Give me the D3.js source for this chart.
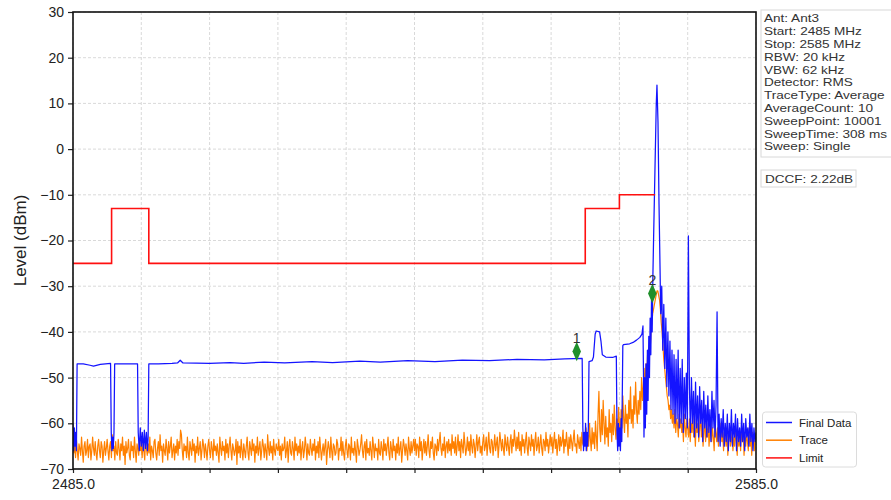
<!DOCTYPE html>
<html><head><meta charset="utf-8">
<script src="https://cdn.jsdelivr.net/npm/d3@7"></script>
<style>
body{margin:0;background:#fff}
svg{display:block}
text{font-family:"Liberation Sans",Arial,Helvetica,sans-serif}
</style>
</head><body>
<svg id="chart" width="891" height="500"></svg>
<script>
// ---------------- DATA ----------------
const yTicks = [30, 20, 10, 0, -10, -20, -30, -40, -50, -60, -70];
const xTicks = [2485, 2495, 2505, 2515, 2525, 2535, 2545, 2555, 2565, 2575, 2585];
const xTickLabels = ["2485.0", "", "", "", "", "", "", "", "", "", "2585.0"];
const yLabel = "Level (dBm)";

const infoLines = ["Ant: Ant3", "Start: 2485 MHz", "Stop: 2585 MHz", "RBW: 20 kHz", "VBW: 62 kHz",
  "Detector: RMS", "TraceType: Average", "AverageCount: 10", "SweepPoint: 10001",
  "SweepTime: 308 ms", "Sweep: Single"];
const dccfText = "DCCF: 2.22dB";

const seriesNames = ["Final Data", "Trace", "Limit"];

// Limit line
const limitFreq  = [2485, 2490.65, 2490.65, 2496.1, 2496.1, 2560, 2560, 2565, 2565, 2570.2];
const limitLevel = [-25, -25, -13, -13, -25, -25, -13, -13, -10, -10];

// Trace (orange), read every 0.125 MHz from 2485 MHz
const traceStart = 2485, traceStep = 0.125;
const traceLevel = [
 -64,-66.5,-65,-67.5,-63.5,-66,-68,-64.5,-65.5,-67,-63,-66,-68.5,-65,-64,-67,-66,-63.5,-67.5,-65,-64.5,-68,-66,-63,-65.5,-67,-64,-66.5,-68,-65,-63.5,-66,-67.5,-64,-65,-68.5,-66,-64,-67,-65.5,
 -63.5,-66,-68,-65,-64,-67.5,-62.5,-66,-65,-68,-64,-66.5,-67,-63.5,-65.5,-68,-64.5,-66,-63,-67,-65,-69,-64,-66.5,-65.5,-63.5,-67,-68,-64,-66,-65,-67.5,-63,-66,-68.5,-64.5,-65.5,-67,-63.5,-66,
 -65,-67.5,-64,-66,-68,-63.5,-65.5,-67,-64.5,-66.5,-63,-68,-65,-66,-67.5,-64,-63.5,-66.5,-68,-65.5,-64,-67,-62.5,-66,-65,-68.5,-64.5,-66,-67,-63.5,-65.5,-68,-64,-66.5,-65,-63,-67.5,-66,-64.5,-68,
 -65,-66.5,-63.5,-67,-64,-65.5,-61.5,-62.5,-66,-68,-64.5,-66,-65,-67.5,-63,-66.5,-68,-64,-65.5,-67,-63.5,-66,-64.5,-68.5,-65,-66.5,-63,-67,-65.5,-64,-68,-66,-63.5,-65,-67.5,-64.5,-66,-68,-65,-63.5,
 -66,-67.5,-64,-65.5,-68,-63.5,-66,-65,-67,-64.5,-66.5,-68.5,-63,-65.5,-67,-64,-66,-65,-68,-63.5,-66.5,-64.5,-67.5,-65,-63,-66,-68,-64.5,-65.5,-67,-66,-63.5,-69,-64,-66.5,-65,-67.5,-63.5,-66,-68,
 -64.5,-66,-67.5,-65,-63,-66.5,-68,-64,-65.5,-67,-63.5,-66,-64.5,-68.5,-65,-66.5,-63,-67,-65.5,-64,-68,-66,-63.5,-65,-67.5,-64.5,-66,-68,-62.5,-65.5,-67,-64,-66.5,-65,-68,-63.5,-66,-67,-64.5,-65.5,
 -66,-63.5,-67,-65,-68,-64.5,-66,-65.5,-63,-67.5,-66,-64,-68.5,-65,-63.5,-66.5,-67,-64,-65.5,-68,-63,-66,-64.5,-67,-65,-66.5,-63.5,-68,-65.5,-64,-67.5,-66,-63,-65,-68,-64.5,-66.5,-67,-63.5,-65.5,
 -67,-64.5,-66,-63.5,-68,-65,-66.5,-64,-67.5,-63,-65.5,-68,-66,-64.5,-67,-65,-63.5,-69,-66,-64,-65.5,-67.5,-63,-66,-68,-64.5,-65,-67,-66.5,-63.5,-64.5,-68,-65.5,-66,-63,-67,-64,-66.5,-68,-65,
 -63.5,-66,-67.5,-64.5,-65,-68,-63,-66.5,-65.5,-67,-64,-66,-68.5,-63.5,-65,-67,-66,-64.5,-62.5,-66,-67.5,-65,-64,-68,-63.5,-66.5,-65.5,-67,-64,-66,-68,-63,-65,-67.5,-64.5,-66,-65.5,-68,-63.5,-66.5,
 -67,-64,-65.5,-68,-63.5,-66,-64.5,-67,-65,-63,-66.5,-68,-64,-65.5,-67.5,-63.5,-66,-65,-68,-64.5,-66.5,-63,-67,-65.5,-64,-68.5,-66,-63.5,-65,-67,-64.5,-66,-68,-63,-65.5,-67,-64,-66.5,-65,-63.5,
 -66,-63.5,-67,-64.5,-65,-67.5,-63,-66,-64,-68,-65.5,-63.5,-66.5,-64,-67,-65,-62.5,-66,-67.5,-64,-65.5,-63,-66.5,-68,-64.5,-65,-67,-63.5,-66,-64,-62,-65.5,-67,-64.5,-66,-63,-67.5,-65,-64,-66.5,
 -63.5,-66,-64.5,-67,-62.5,-65.5,-64,-66.5,-63,-67,-65,-62.5,-66,-64,-67.5,-63.5,-65,-66.5,-62,-64.5,-67,-65.5,-63,-66,-64,-67,-62.5,-65,-66.5,-63.5,-64.5,-67.5,-65,-62.5,-66,-64,-63,-66.5,-65,-67,
 -64,-62.5,-66,-65,-63,-67,-64.5,-62,-65.5,-66.5,-63.5,-64,-67,-65,-62.5,-66,-64.5,-63,-67.5,-65,-62,-64,-66,-63.5,-65.5,-67,-62.5,-64.5,-66,-63,-65,-67,-64,-62.5,-66.5,-63.5,-65,-61.5,-64,-66,
 -63,-65.5,-62,-66,-64,-67,-62.5,-65,-63.5,-66.5,-64,-62,-65.5,-67,-63,-64.5,-66,-62.5,-65,-63.5,-67,-64,-62,-66,-65,-63,-66.5,-64.5,-62.5,-65.5,-67,-63.5,-64,-66,-62,-65,-63.5,-66.5,-64.5,-62.5,
 -65,-63,-66.5,-64,-62,-65.5,-63.5,-67,-64.5,-62.5,-66,-63,-65,-64,-61.5,-66.5,-63.5,-65,-62,-64.5,-67,-63,-65.5,-62.5,-64,-66,-63.5,-61.5,-65,-64.5,-66.5,-62.5,-64,-65.5,-63,-66,-62,-64.5,-65,-63.5,
 -64,-61,-66,-62.5,-65,-60,-63.5,-66,-61,-64.5,-62,-65.5,-59.5,-63,-66,-58,-53,-61,-64,-57,-62.5,-55,-60,-64.5,-58.5,-63,-61,-65,-57,-62,-60,-64,-58,-62.5,-56,-61,-63.5,-59,-62,-56.5,
 -60,-63,-57,-61,-54,-59,-62,-56,-60,-58,-63,-55,-59,-52,-60,-57,-61,-54,-58,-51,-57,-60,-55,-58,-53,-57,-50,-55,-52,-48,-53,-47,-50,-45,-48,-43,-44,-40,-38,-36,
 -35,-34,-33,-32,-31,-31,-32,-33,-35,-38,-40,-43,-46,-48,-50,-52,-54,-55,-57,-56,-59,-57,-60,-58,-61,-57,-62,-59,-60,-63,-58,-61,-59,-62,-60,-64,-58,-61,-63,-59,
 -61,-63,-59,-64,-60,-62,-58,-63,-61,-65,-59,-62,-60,-64,-61,-58,-63,-60,-65,-62,-59,-64,-61,-63,-60,-65,-62,-59,-64,-61,-63,-66,-60,-62,-64,-61,-65,-62,-63,-60,
 -64,-62,-66,-61,-63,-65,-62,-67,-63,-61,-65,-64,-62,-66,-63,-65,-61,-64,-67,-62,-65,-63,-66,-61,-64,-62,-67,-63,-65,-62,-64,-66,-61,-65,-63,-67,-62,-64,-66,-63,
 -64
];

// Final Data (blue), irregularly read points up to the peak
const finalFreq = [
 2485.0,2485.1,2485.2,2485.3,2485.4,2485.5,2485.6,
 2486.5,2487.5,2488.0,2489.0,2490.5,
 2490.6,2490.7,2490.8,2490.9,2491.0,2491.1,
 2492.5,2494.45,
 2494.55,2494.7,2494.85,2495.0,2495.15,2495.3,2495.45,2495.6,2495.75,2495.9,2496.0,2496.1,
 2497.5,2499.5,2500.3,2500.7,2501.1,
 2505,2508,2510,2513,2516,2520,2523,2527,2530,2534,2538,2542,2546,2550,2554,2557,2559.55,
 2559.65,2559.75,2559.85,2559.95,2560.05,2560.15,2560.25,2560.35,2560.45,2560.55,
 2561.0,2561.2,2561.45,2561.6,2562.1,2562.3,2562.5,2563,2564,2564.55,
 2564.65,2564.75,2564.85,2564.95,2565.05,2565.15,2565.25,2565.35,2565.5,
 2565.6,2566.5,2567.0,2567.5,2568.0,2568.3,2568.45,
 2568.55,2568.6,2568.7,2568.8,2568.9,2569.0,2569.1,2569.2,2569.3,2569.4,2569.5,2569.6,2569.7,2569.8,2569.9,
 2570.0,2570.2,2570.4,2570.5,2570.65,2570.8,2570.95,2571.05
];
const finalLevel = [
 -60,-66,-61,-65,-62,-66,-47,
 -47,-47.3,-47.5,-47.1,-46.9,
 -62,-66,-63,-65.5,-62,-47,
 -47,-47,
 -62,-66,-61,-65,-62,-66,-61.5,-65.5,-62,-66,-63,-47,
 -47,-46.9,-46.8,-46.2,-46.8,
 -46.9,-46.7,-46.9,-46.6,-46.8,-46.5,-46.7,-46.4,-46.6,-46.3,-46.5,-46.2,-46.3,-46.0,-46.1,-45.9,-45.8,
 -61,-66,-62,-65,-60,-66,-62,-65,-61,-46.5,
 -46.3,-45.5,-40.5,-39.8,-40,-42,-45,-45.5,-45.6,-45.3,
 -62,-66,-60,-65,-61,-66,-59,-64,-43,
 -42.8,-42.6,-42.3,-41.8,-41.2,-40.5,-38.7,
 -52,-63,-50,-61,-47,-58,-44,-55,-41,-50,-37,-45,-33,-40,-28,
 -20,-5,10,14,6,-12,-26,-36
];
// Final Data (blue) after the peak, read every 0.15 MHz from 2571.2 MHz
const finalTailStart = 2571.2, finalTailStep = 0.15;
const finalTailLevel = [
 -30,-44,-34,-48,-37,-52,-40,-54,-42,-57,-44,-58,-45,-60,-46,-59,-44,-61,-48,-60,
 -46,-62,-50,-59,-49,-61,-19,-52,-62,-50,-60,-53,-63,-51,-61,-54,-63,-52,-60,-55,
 -64,-53,-61,-56,-63,-54,-62,-57,-64,-53,-61,-55,-63,-56,-35.6,-64,-58,-65,-59,-63,
 -57,-65,-60,-64,-58,-66,-60,-64,-57,-65,-60,-63,-58,-66,-59,-64,-61,-65,-58,-64,
 -60,-66,-59,-63,-61,-65,-58,-64,-60,-66,-61,-64,-62
];

// Markers
const markerFreq  = [2558.75, 2569.82];
const markerLevel = [-44.3, -31.6];
const markerLabel = ["1", "2"];

// ---------------- DRAW ----------------
const svg = d3.select("#chart");
const L = 73, R = 756, T = 12, B = 469;
const x = d3.scaleLinear().domain([2485, 2585]).range([L, R]);
const y = d3.scaleLinear().domain([-70, 30]).range([B, T]);

svg.append("rect").attr("width", 891).attr("height", 500).attr("fill", "#fff");

// grid
const grid = svg.append("g").attr("stroke", "#cfcfcf").attr("stroke-width", 0.8).attr("stroke-dasharray", "3,2");
grid.selectAll("line.h").data(yTicks).join("line").attr("class", "h")
  .attr("x1", L).attr("x2", R).attr("y1", d => y(d)).attr("y2", d => y(d));
grid.selectAll("line.v").data(xTicks).join("line").attr("class", "v")
  .attr("y1", T).attr("y2", B).attr("x1", d => x(d)).attr("x2", d => x(d));

// clip
svg.append("defs").append("clipPath").attr("id", "clip")
  .append("rect").attr("x", L).attr("y", T).attr("width", R - L).attr("height", B - T);
const plot = svg.append("g").attr("clip-path", "url(#clip)");

const line = d3.line().x(d => x(d[0])).y(d => y(d[1]));

const traceData = traceLevel.map((v, i) => [traceStart + i * traceStep, v]);
const finalData = finalFreq.map((f, i) => [f, finalLevel[i]])
  .concat(finalTailLevel.map((v, i) => [finalTailStart + i * finalTailStep, v]));
const limitData = limitFreq.map((f, i) => [f, limitLevel[i]]);

const colors = {"Final Data": "#1414ff", "Trace": "#ff8000", "Limit": "#ff1010"};

plot.append("path").datum(traceData).attr("d", line).attr("fill", "none")
  .attr("stroke", colors["Trace"]).attr("stroke-width", 1.2).attr("stroke-linejoin", "round");
plot.append("path").datum(finalData).attr("d", line).attr("fill", "none")
  .attr("stroke", colors["Final Data"]).attr("stroke-width", 1.25).attr("stroke-linejoin", "round");
plot.append("path").datum(limitData).attr("d", line).attr("fill", "none")
  .attr("stroke", colors["Limit"]).attr("stroke-width", 1.6);

// markers
const mk = svg.append("g");
mk.selectAll("path").data(markerFreq).join("path")
  .attr("d", d3.symbol().type(d3.symbolDiamond).size(70))
  .attr("transform", (d, i) => `translate(${x(d)},${y(markerLevel[i])}) scale(0.95,1.25)`)
  .attr("fill", "#1f8f2a");
mk.selectAll("text").data(markerFreq).join("text")
  .attr("x", d => x(d)).attr("y", (d, i) => y(markerLevel[i]) - 9)
  .attr("text-anchor", "middle").attr("font-size", 14).attr("fill", "#333")
  .text((d, i) => markerLabel[i]);

// axes
const ya = svg.append("g").attr("transform", `translate(${L},0)`)
  .call(d3.axisLeft(y).tickValues(yTicks).tickSize(5).tickPadding(4));
const xa = svg.append("g").attr("transform", `translate(0,${B})`)
  .call(d3.axisBottom(x).tickValues(xTicks).tickSize(4).tickPadding(6)
    .tickFormat((d, i) => xTickLabels[i]));
[ya, xa].forEach(a => {
  a.select(".domain").remove();
  a.selectAll("text").attr("font-size", 14).attr("fill", "#222")
    .attr("font-family", "'Liberation Sans',Arial,sans-serif");
  a.selectAll("line").attr("stroke", "#222").attr("stroke-width", 1.2);
});

// frame
svg.append("rect").attr("x", L).attr("y", T).attr("width", R - L).attr("height", B - T)
  .attr("fill", "none").attr("stroke", "#111").attr("stroke-width", 1.6);

// y label
svg.append("text").attr("transform", `translate(26,${(T + B) / 2}) rotate(-90)`)
  .attr("text-anchor", "middle").attr("font-size", 17).attr("fill", "#222").text(yLabel);

// info box
const ib = svg.append("g");
ib.append("rect").attr("x", 761).attr("y", 10).attr("width", 140).attr("height", 147)
  .attr("fill", "#fff").attr("stroke", "#d8d8d8").attr("stroke-width", 1);
const ibt = ib.append("g").attr("transform", "translate(764,0) scale(1.2,1)");
ibt.selectAll("text").data(infoLines).join("text")
  .attr("x", 0).attr("y", (d, i) => 22.5 + i * 12.8)
  .attr("font-size", 11.3).attr("fill", "#333").text(d => d);

const db = svg.append("g");
db.append("rect").attr("x", 761).attr("y", 170).attr("width", 95).attr("height", 17)
  .attr("fill", "#fff").attr("stroke", "#d8d8d8").attr("stroke-width", 1);
db.append("g").attr("transform", "translate(765,0) scale(1.2,1)")
  .append("text").attr("x", 0).attr("y", 183).attr("font-size", 11.3).attr("fill", "#333").text(dccfText);

// legend
const lg = svg.append("g");
lg.append("rect").attr("x", 762.5).attr("y", 412).attr("width", 94).attr("height", 55).attr("rx", 3)
  .attr("fill", "#fff").attr("stroke", "#dcdcdc").attr("stroke-width", 1);
seriesNames.forEach((n, i) => {
  const yy = 422.5 + i * 17.7;
  lg.append("line").attr("x1", 766).attr("x2", 792).attr("y1", yy).attr("y2", yy)
    .attr("stroke", colors[n]).attr("stroke-width", 1.5);
  lg.append("text").attr("x", 799).attr("y", yy + 4).attr("font-size", 11.5).attr("fill", "#222").text(n);
});
</script>
</body></html>
